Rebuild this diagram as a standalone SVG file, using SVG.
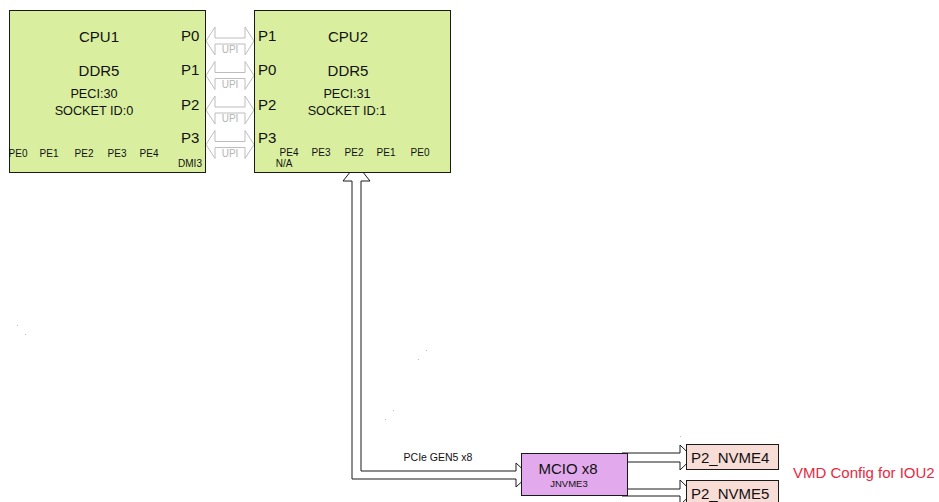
<svg xmlns="http://www.w3.org/2000/svg" width="939" height="502" viewBox="0 0 939 502">
<style>
text{font-family:"Liberation Sans",Arial,sans-serif;fill:#111}
.cpu{fill:#d9ef9f;stroke:#1a1a1a;stroke-width:1}
.big{font-size:15px}
.mid{font-size:12.7px}
.sm{font-size:10px}
.upi{fill:#fff;stroke:#bdbdbd;stroke-width:1}
.upit{font-size:10px;fill:#b5b5b5;text-anchor:middle}
.blk{fill:#fff;stroke:#1a1a1a;stroke-width:1}
.c{text-anchor:middle}
.dot{fill:#bbb}
</style>
<rect width="939" height="502" fill="#fff"/>
<g id="connectors">
  <g id="upi0">
    <polygon class="upi" points="206,41 215,27 215,38 245,38 245,27 254,41 245,55 245,44 215,44 215,55"/>
    <text class="upit" x="230" y="53">UPI</text>
  </g>
  <g id="upi1">
    <polygon class="upi" points="206,75.5 215,61.5 215,72.5 245,72.5 245,61.5 254,75.5 245,89.5 245,78.5 215,78.5 215,89.5"/>
    <text class="upit" x="230" y="87.5">UPI</text>
  </g>
  <g id="upi2">
    <polygon class="upi" points="206,110 215,96 215,107 245,107 245,96 254,110 245,124 245,113 215,113 215,124"/>
    <text class="upit" x="230" y="122">UPI</text>
  </g>
  <g id="upi3">
    <polygon class="upi" points="206,144.5 215,130.5 215,141.5 245,141.5 245,130.5 254,144.5 245,158.5 245,147.5 215,147.5 215,158.5"/>
    <text class="upit" x="230" y="156.5">UPI</text>
  </g>
  <g id="pcie">
    <polygon class="blk" points="356.5,164 370,181 361,181 361,471 516,471 516,463 529,475 516,487 516,479 352,479 352,181 343,181"/>
    <text x="438" y="461" class="c" style="font-size:10.5px">PCIe GEN5 x8</text>
  </g>
  <polygon id="to-nvme4" class="blk" points="622,453 680,453 680,445 693,457.5 680,470 680,462 622,462"/>
  <polygon id="to-nvme5" class="blk" points="622,489 680,489 680,480 693,492.5 680,505 680,496 622,496"/>
</g>
<g id="cpu1">
  <rect class="cpu" x="9.5" y="10.5" width="196" height="162"/>
  <text class="big c" x="99" y="42">CPU1</text>
  <text class="big c" x="99" y="76">DDR5</text>
  <text class="mid c" x="94" y="98">PECI:30</text>
  <text class="mid c" x="94" y="115">SOCKET ID:0</text>
  <text class="big" x="181" y="41">P0</text>
  <text class="big" x="181" y="75">P1</text>
  <text class="big" x="181" y="110">P2</text>
  <text class="big" x="181" y="143">P3</text>
  <text class="sm c" x="18" y="157">PE0</text>
  <text class="sm c" x="49" y="157">PE1</text>
  <text class="sm c" x="84" y="157">PE2</text>
  <text class="sm c" x="117" y="157">PE3</text>
  <text class="sm c" x="149" y="157">PE4</text>
  <text class="sm c" x="190" y="167">DMI3</text>
</g>
<g id="cpu2">
  <rect class="cpu" x="254.5" y="10.5" width="196" height="162"/>
  <text class="big c" x="348" y="42">CPU2</text>
  <text class="big c" x="348" y="76">DDR5</text>
  <text class="mid c" x="347" y="98">PECI:31</text>
  <text class="mid c" x="347" y="115">SOCKET ID:1</text>
  <text class="big" x="258" y="41">P1</text>
  <text class="big" x="258" y="75">P0</text>
  <text class="big" x="258" y="110">P2</text>
  <text class="big" x="258" y="143">P3</text>
  <text class="sm c" x="289" y="156">PE4</text>
  <text class="sm c" x="284" y="167">N/A</text>
  <text class="sm c" x="321" y="156">PE3</text>
  <text class="sm c" x="354" y="156">PE2</text>
  <text class="sm c" x="386" y="156">PE1</text>
  <text class="sm c" x="420" y="156">PE0</text>
</g>
<g id="mcio">
  <rect x="521.5" y="453.5" width="106" height="42" fill="#e2aaec" stroke="#1a1a1a" stroke-width="1"/>
  <text class="big c" x="568" y="474">MCIO x8</text>
  <text class="c" x="569" y="487" style="font-size:9.5px">JNVME3</text>
</g>
<g id="nvme4">
  <rect x="686.5" y="444.5" width="92" height="25" fill="#f8dcd6" stroke="#1a1a1a" stroke-width="1"/>
  <text class="big" x="691" y="463">P2_NVME4</text>
</g>
<g id="nvme5">
  <rect x="686.5" y="480.5" width="92" height="26" fill="#f8dcd6" stroke="#1a1a1a" stroke-width="1"/>
  <text class="big" x="691" y="499">P2_NVME5</text>
</g>
<g id="note">
  <text x="793" y="478" style="font-size:15px;fill:#e8293f">VMD Config for IOU2</text>
</g>
<g id="dots">
  <rect class="dot" x="17" y="325" width="1" height="1"/>
  <rect class="dot" x="25" y="334" width="1" height="1"/>
  <rect class="dot" x="426" y="350" width="1" height="1"/>
  <rect class="dot" x="418" y="359" width="1" height="1"/>
  <rect class="dot" x="393" y="410" width="1" height="1"/>
  <rect class="dot" x="385" y="419" width="1" height="1"/>
  <rect class="dot" x="680" y="436" width="1" height="1"/>
</g>
</svg>
